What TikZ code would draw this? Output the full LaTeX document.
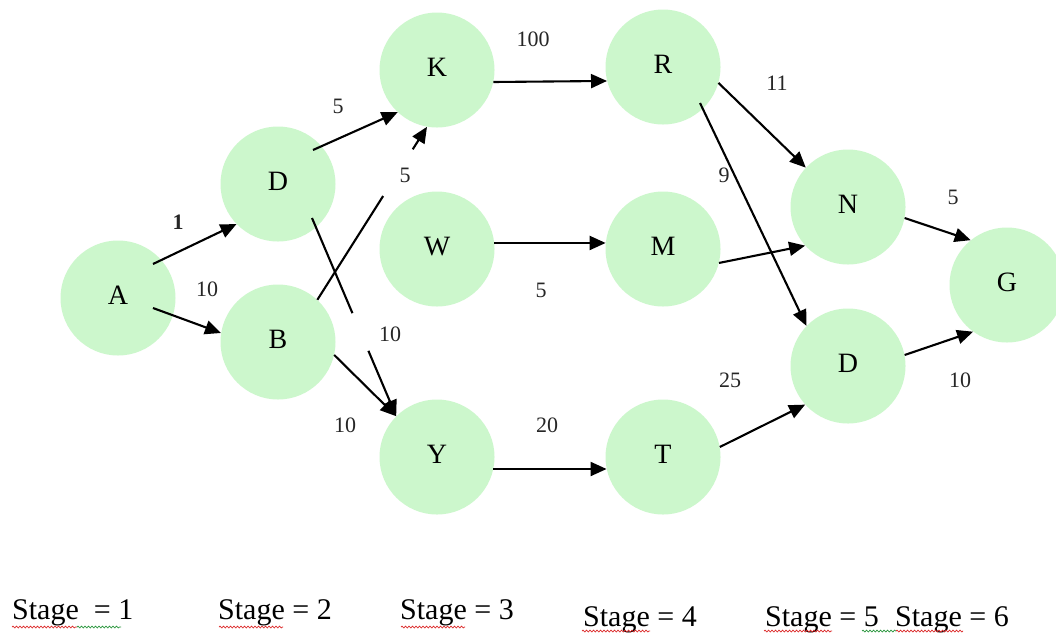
\documentclass[tikz,border=0pt]{standalone}
\usepackage{fontspec}
\setmainfont{Liberation Serif}
\usetikzlibrary{arrows.meta,calc,decorations.pathmorphing}
\definecolor{nodegreen}{RGB}{204,247,204}
\definecolor{spellred}{RGB}{220,40,40}
\definecolor{spellgreen}{RGB}{40,150,60}
\newcommand{\vlab}[1]{\raisebox{5pt}{#1}}
\begin{document}
\begin{tikzpicture}[x=1pt,y=-1pt,
  vtx/.style={circle,fill=nodegreen,minimum size=115pt,inner sep=0pt,font=\fontsize{28}{30}\selectfont},
  edge/.style={line width=2.1pt,black},
  arr/.style={edge,-{Triangle[length=16pt,width=14pt]}},
  wt/.style={font=\fontsize{22}{24}\selectfont,inner sep=0pt,text=black!85},
  stg/.style={anchor=base west,font=\fontsize{30}{32}\selectfont,inner sep=0pt},
  squig/.style={decorate,decoration={snake,amplitude=0.9pt,segment length=3.5pt},line width=0.7pt}]
\useasboundingbox (0,0) rectangle (1056,633);
\fill[white] (0,0) rectangle (1056,633);

% nodes
\node[vtx] (A)  at (118,298) {\vlab{A}};
\node[vtx] (D1) at (278,184) {\vlab{D}};
\node[vtx] (B)  at (278,342) {\vlab{B}};
\node[vtx] (K)  at (437,70)  {\vlab{K}};
\node[vtx] (W)  at (437,249) {\vlab{W}};
\node[vtx] (Y)  at (437,457) {\vlab{Y}};
\node[vtx] (R)  at (663,67)  {\vlab{R}};
\node[vtx] (M)  at (663,249) {\vlab{M}};
\node[vtx] (T)  at (663,457) {\vlab{T}};
\node[vtx] (N)  at (848,207) {\vlab{N}};
\node[vtx] (D2) at (848,366) {\vlab{D}};
\node[vtx] (G)  at (1007,285) {\vlab{G}};

% connectors
\draw[arr] ([shift={(35,-34)}]A.center) -- (D1.224);
\draw[arr] ([shift={(35,10)}]A.center) -- (B.171);
\draw[arr] ([shift={(35,-34)}]D1.center) -- (K.227);
\coordinate (bkS) at (B.47);
\coordinate (bkE) at (K.260);
\draw[edge] (bkS) -- ($(bkS)!0.6!(bkE)$);
\draw[arr] ($(bkS)!0.87!(bkE)$) -- (bkE);
\coordinate (dyS) at ([shift={(34,34)}]D1.center);
\coordinate (dyE) at (Y.135);
\draw[edge] (dyS) -- ($(dyS)!0.48!(dyE)$);
\draw[arr] ($(dyS)!0.67!(dyE)$) -- (dyE);
\draw[arr] (B.-13) -- (Y.135);
\draw[arr] (K.-12) -- (R.194);
\draw[arr] (W.6) -- (M.174);
\draw[arr] (Y.-12) -- (T.192);
\draw[arr] (R.-16) -- (N.137);
\draw[arr] ([shift={(37,36)}]R.center) -- (D2.136);
\draw[arr] (M.-14) -- (N.222);
\draw[arr] (T.10) -- (D2.222);
\draw[arr] (N.-11) -- (G.129);
\draw[arr] (D2.11) -- (G.234);

% weights
\node[wt] (w1)  at (178,222) {\textbf{1}};
\node[wt] (w2)  at (207,289) {10};
\node[wt] (w3)  at (338,106) {5};
\node[wt] (w4)  at (405,175) {5};
\node[wt] (w5)  at (390,334) {10};
\node[wt] (w6)  at (345,425) {10};
\node[wt] (w7)  at (533,39)  {100};
\node[wt] (w8)  at (541,290) {5};
\node[wt] (w9)  at (547,425) {20};
\node[wt] (w10) at (777,83)  {11};
\node[wt] (w11) at (724,175) {9};
\node[wt] (w12) at (730,380) {25};
\node[wt] (w13) at (953,197) {5};
\node[wt] (w14) at (960,380) {10};

% stage labels
\node[stg] (s1) at (12,619)  {Stage\ \ = 1};
\node[stg] (s2) at (218,619) {Stage = 2};
\node[stg] (s3) at (400,619) {Stage = 3};
\node[stg] (s4) at (583,626) {Stage = 4};
\node[stg] (s5) at (765,626) {Stage = 5};
\node[stg] (s6) at (895,626) {Stage = 6};

% spell-check underlines
\draw[squig,spellred]   (12,627) -- (77,627);
\draw[squig,spellgreen] (77,627) -- (121,627);
\draw[squig,spellred]   (219,627) -- (283,627);
\draw[squig,spellred]   (401,627) -- (465,627);
\draw[squig,spellred]   (582,631) -- (650,631);
\draw[squig,spellred]   (764,631) -- (832,631);
\draw[squig,spellgreen] (862,631) -- (896,631);
\draw[squig,spellred]   (896,631) -- (963,631);
\end{tikzpicture}
\end{document}
